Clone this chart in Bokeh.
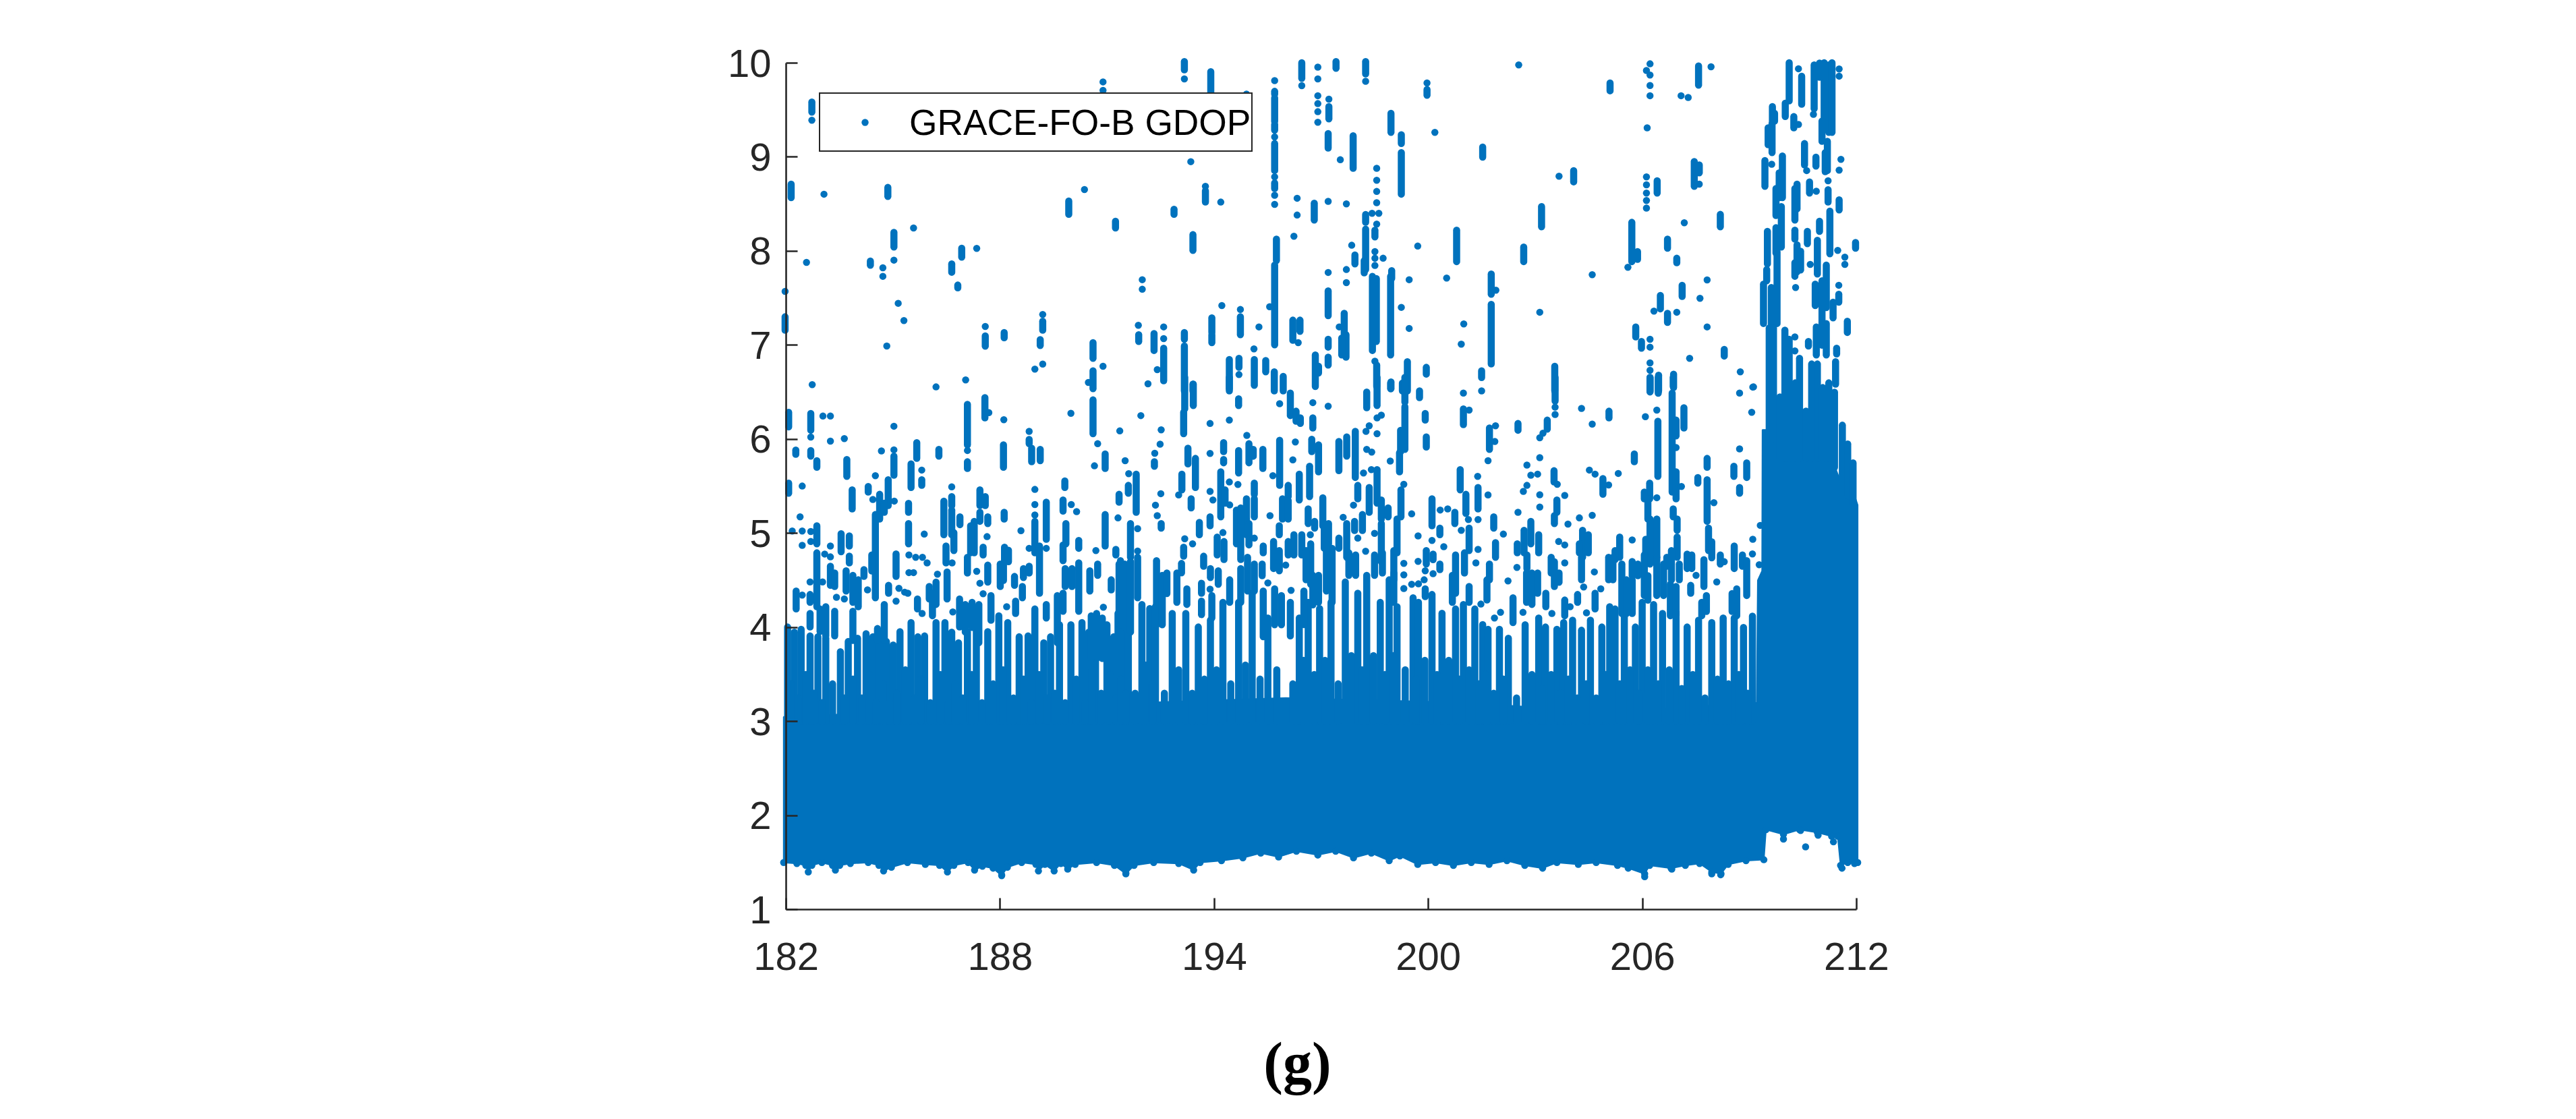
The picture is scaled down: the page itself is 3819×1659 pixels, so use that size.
from bokeh.embed import file_html
from bokeh.models import FixedTicker, Label, Legend, LegendItem
from bokeh.plotting import figure
from bokeh.resources import INLINE

# ---- values: (day, GDOP) -----------------------------------------------------
x_ticks = [182, 188, 194, 200, 206, 212]
y_ticks = [1, 2, 3, 4, 5, 6, 7, 8, 9, 10]
series_label = "GRACE-FO-B GDOP"
caption = "(g)"

# lower edge and upper edge of the solid body of the cloud
low_day = [181.93,182.3,182.55,182.62,182.72,183.0,183.3,183.38,183.5,183.8,184.3,184.6,184.73,184.95,185.4,185.9,186.3,186.52,186.7,187.1,187.28,187.5,187.8,188.04,188.2,188.6,189.0,189.07,189.25,189.51,189.7,189.89,190.1,190.7,191.2,191.52,191.75,192.3,193.0,193.42,193.6,194.2,194.8,195.3,195.8,196.3,196.9,197.4,197.9,198.4,198.9,199.2,199.7,200.2,200.7,201.2,201.7,202.2,202.7,203.2,203.6,204.2,204.7,205.3,205.6,206.06,206.2,206.8,207.2,207.6,207.94,208.2,208.4,208.9,209.4,209.46,209.95,210.4,210.9,211.3,211.47,211.55,211.75,211.95,212.03]
low_gdop = [1.50,1.49,1.47,1.40,1.47,1.50,1.47,1.42,1.47,1.49,1.50,1.47,1.41,1.45,1.50,1.48,1.47,1.40,1.47,1.50,1.42,1.46,1.44,1.36,1.45,1.50,1.48,1.41,1.48,1.41,1.49,1.43,1.48,1.50,1.47,1.38,1.47,1.50,1.49,1.42,1.50,1.52,1.55,1.60,1.56,1.62,1.58,1.62,1.55,1.60,1.52,1.57,1.48,1.50,1.47,1.50,1.48,1.52,1.47,1.44,1.50,1.48,1.50,1.47,1.44,1.38,1.47,1.44,1.47,1.49,1.40,1.38,1.48,1.52,1.53,1.85,1.80,1.85,1.82,1.78,1.78,1.47,1.50,1.50,1.50]
top_day = [181.93,185,190,192,196,201,205,209.2,209.23,209.35,209.36,209.75,209.85,211.0,211.3,211.5,211.7,211.9,212.03]
top_gdop = [3.05,3.1,3.1,3.2,3.25,3.2,3.1,3.2,4.5,4.6,6.1,6.1,5.9,5.9,5.8,5.6,5.5,5.45,5.3]

# tall columns that rise out of the body: (day, top GDOP)
columns_left = [(182.04,4.004),(182.23,3.95),(182.42,3.98),(182.67,3.909),(182.89,3.9),(183.11,3.885),(183.52,3.741),(183.74,3.85),(184.0,3.885),(184.24,3.933),(184.43,3.9),(184.62,3.837),(184.81,3.85),(185.0,3.813),(185.19,3.954),(185.5,4.052),(185.69,3.9),(185.88,3.909),(186.2,4.052),(186.45,4.052),(186.64,3.95),(186.83,3.837),(187.08,3.954),(187.33,4.028),(187.65,3.954),(187.96,4.124),(188.21,4.052),(188.53,3.9),(188.78,3.909),(188.97,4.196),(189.22,3.837),(189.41,3.9),(189.66,4.028),(189.98,4.028),(190.29,4.052),(190.48,3.95),(190.67,4.124),(190.99,4.028),(191.18,3.9),(191.3,4.148),(191.46,4.0),(191.59,4.148)]
columns_mid = [(191.97,4.243),(192.19,4.2),(192.35,4.22),(192.82,4.148),(193.2,4.148),(193.55,4.004),(193.89,4.076),(194.24,4.267),(194.68,4.267),(195.06,4.363),(195.5,4.1),(196.38,4.1),(196.63,4.267),(196.95,4.2),(197.27,4.267),(197.67,4.483),(198.02,4.363),(198.27,4.554),(198.65,4.267),(198.9,4.506),(199.12,4.22),(199.57,4.315),(199.72,4.267),(200.1,4.35),(200.38,4.15),(200.76,4.196),(200.98,4.244),(201.3,4.196),(201.52,4.03)]
columns_right = [(201.67,3.98),(201.99,3.98),(202.24,3.885),(202.71,4.028),(203.09,4.1),(203.28,4.004),(203.6,3.98),(203.79,4.052),(204.04,4.076),(204.29,3.97),(204.54,4.076),(204.86,4.004),(205.08,4.22),(205.23,4.196),(205.49,4.15),(205.8,4.004),(205.99,4.267),(206.31,4.244),(206.56,4.148),(206.94,4.17),(207.25,4.004),(207.57,4.076),(207.94,4.052),(208.26,4.1),(208.57,4.1),(208.83,4.0),(209.08,4.12)]
# shorter columns between them, where the white flecks stop
columns_between = [(182.13,3.4),(182.33,3.25),(182.55,3.5),(182.78,3.3),(183.0,3.2),(183.3,3.4),(183.63,3.25),(183.87,3.45),(184.12,3.25),(184.33,3.5),(184.52,3.2),(184.72,3.4),(184.9,3.2),(185.1,3.3),(185.34,3.55),(185.6,3.25),(185.78,3.45),(186.04,3.2),(186.32,3.5),(186.55,3.2),(186.73,3.4),(186.95,3.25),(187.2,3.5),(187.49,3.2),(187.8,3.4),(188.08,3.55),(188.37,3.25),(188.65,3.45),(188.87,3.2),(189.09,3.5),(189.31,3.25),(189.53,3.3),(189.82,3.2),(190.13,3.45),(190.38,3.2),(190.57,3.55),(190.83,3.3),(191.08,3.5),(191.24,3.25),(191.38,3.45),(191.52,3.3),(191.78,3.3),
(192.08,3.6),(192.27,3.4),(192.6,3.3),(193.0,3.55),(193.38,3.3),(193.72,3.45),(194.06,3.55),(194.46,3.4),(194.87,3.6),(195.28,3.45),(195.75,3.55),(196.2,3.4),(196.5,3.65),(196.8,3.5),(197.1,3.65),(197.47,3.4),(197.84,3.7),(198.14,3.55),(198.46,3.7),(198.78,3.5),(199.01,3.7),(199.35,3.55),(199.65,3.45),(199.9,3.65),(200.24,3.5),(200.57,3.65),(200.87,3.45),(201.14,3.55),(201.41,3.4),(201.6,3.5),
(201.83,3.3),(202.1,3.45),(202.47,3.25),(202.9,3.5),(203.19,3.35),(203.44,3.5),(203.7,3.3),(203.92,3.45),(204.17,3.25),(204.42,3.4),(204.7,3.25),(204.97,3.5),(205.36,3.4),(205.65,3.55),(205.9,3.3),(206.15,3.55),(206.44,3.4),(206.75,3.55),(207.1,3.35),(207.41,3.5),(207.75,3.25),(208.1,3.45),(208.41,3.4),(208.7,3.5),(208.95,3.3)]

# vertical chains of dots: (day, highest GDOP, lowest GDOP)
runs_upper_left = [(182.72,9.586,9.478),(182.14,8.713,8.57),(184.85,8.678,8.582),(185.02,8.2,8.044),(184.36,7.895,7.85),(186.92,8.032,7.937),(186.64,7.865,7.776),(186.81,7.64,7.61),(181.97,7.303,7.16),(187.58,7.1,6.99),(188.11,7.135,7.08),(189.19,7.255,7.16),(189.12,7.06,6.997),
(193.16,10.016,9.928),(193.9,9.909,9.694),(195.69,9.7,9.67),(195.69,9.63,9.38),(195.69,9.347,9.287),(195.69,9.144,8.857),(195.69,8.725,8.666),(196.45,10.004,9.837),(197.21,9.538,9.407),(197.19,9.251,9.096),(193.75,8.642,8.522),(189.92,8.534,8.391),(191.23,8.319,8.247),(192.87,8.446,8.391),(193.4,8.176,8.008),(196.8,8.51,8.331),(195.74,8.128,7.9),(195.69,7.853,7.004),(197.19,7.578,7.315),(194.73,7.303,7.112),(193.93,7.291,7.136),(193.93,7.11,7.028),(191.88,7.112,7.04),(192.31,7.124,6.944),(193.16,7.136,7.064),(196.2,7.267,7.052),(196.4,7.267,7.148),(197.19,7.064,6.98),(197.19,6.873,6.789),(190.6,7.028,6.861),(190.6,6.729,6.538),(192.58,6.968,6.622),(193.16,6.992,6.514),(193.4,6.586,6.514),(194.42,6.849,6.514),(194.69,6.861,6.765),(195.12,6.849,6.574),(195.44,6.837,6.717),(195.68,6.717,6.514),(195.93,6.669,6.514),(196.83,6.897,6.562),(196.92,6.777,6.705)]
runs_upper_mid = [(197.41,10.016,9.945),(198.24,10.016,9.885),(199.96,9.718,9.658),(198.95,9.466,9.263),(199.24,9.239,9.144),(199.24,9.048,8.606),(197.89,9.227,8.881),(201.52,9.108,9.0),(204.07,8.857,8.737),(203.17,8.474,8.259),(198.24,8.39,8.307),(198.24,8.235,7.805),(198.5,8.223,8.152),(200.79,8.223,7.889),(197.94,7.96,7.865),(202.67,8.044,7.889),(198.2,7.9,7.77),(198.97,7.793,7.71),(198.43,7.733,6.944),(198.54,7.709,7.04),(198.94,7.733,6.897),(201.76,7.757,7.542),(201.76,7.434,6.801),(197.64,7.339,7.112),(197.69,7.112,6.873),(197.57,7.076,6.897),(198.55,6.789,6.562),(199.41,6.825,6.514),(199.94,6.765,6.693),(201.49,6.729,6.657),(198.94,6.598,6.538),(199.27,6.598,6.514),(203.54,6.777,6.514)]
runs_upper_right = [(205.09,9.789,9.705),(207.57,9.969,9.765),(206.41,8.749,8.618),(207.45,8.953,8.69),(207.59,8.917,8.833),(208.18,8.391,8.259),(205.7,8.307,7.889),(205.86,7.996,7.913),(206.7,8.128,8.032),(206.96,7.925,7.877),(207.11,7.638,7.518),(206.5,7.53,7.387),(206.7,7.339,7.243),(205.81,7.195,7.088),(205.97,7.04,6.968),(208.29,6.956,6.885),(206.21,6.657,6.514),(206.45,6.681,6.514),(206.87,6.693,6.55)]
runs_spike = [(210.11,10.004,9.598),(210.0,9.574,9.431),(210.46,9.861,9.562),(210.81,9.98,9.514),(211.09,10.004,9.311),(211.22,9.98,9.263),(211.31,10.004,9.263),(210.96,10.0,9.85),(211.03,9.383,9.168),(209.64,9.538,9.383),(209.7,9.466,9.383),(209.52,9.311,9.132),(209.63,9.359,9.048),(210.24,9.431,9.311),(210.54,9.144,8.917),(210.86,9.0,8.905),(211.18,9.168,8.857),(211.12,9.048,8.845),(209.43,8.964,8.69),(209.92,9.012,8.57),(209.83,8.833,8.57),(209.74,8.666,8.379),(209.89,8.474,8.044),(209.74,8.25,7.98),(210.33,8.713,8.45),(210.27,8.666,8.331),(210.68,8.737,8.618),(211.2,8.654,8.522),(211.51,8.546,8.439),(211.25,8.426,7.972),(210.96,8.319,8.211),(210.9,8.116,7.757),(210.27,8.223,8.128),(210.62,8.211,8.08),(209.5,8.211,7.865),(209.77,7.996,7.231),(209.48,7.805,7.686),(209.39,7.65,7.231),(209.61,7.614,7.136),(211.97,8.092,8.032),(210.33,8.068,7.781),(210.43,8.0,7.8),(210.27,7.877,7.733),(211.15,7.853,7.4),(210.84,7.65,7.422),(211.03,7.686,7.0),(211.5,7.542,7.458),(211.34,7.458,7.291),(211.74,7.255,7.136),(210.87,7.195,6.897),(211.15,7.231,6.897),(210.65,7.04,6.992),(211.44,6.968,6.908),(209.99,7.16,5.8),(210.11,7.064,5.8),(209.55,7.184,6.0),(209.67,7.184,6.0),(210.4,6.861,5.8),(210.74,6.801,5.8),(210.9,6.801,5.8),(211.41,6.825,6.586),(209.85,6.45,5.8),(210.28,6.6,5.8),(210.58,6.3,5.8),(211.05,6.55,5.8),(211.22,6.6,5.8),(211.38,6.5,5.7),(211.6,6.15,5.5),(211.75,5.95,5.4),(211.9,5.75,5.3)]
runs_lower_left = [(187.57,6.443,6.228),(187.08,6.371,5.941),(187.08,5.761,5.69),(182.07,6.287,6.132),(182.69,6.275,6.096),(182.69,5.881,5.821),(182.27,5.885,5.84),(182.86,5.773,5.702),(183.7,5.785,5.606),(185.02,5.821,5.618),(185.66,5.965,5.797),(186.28,5.893,5.821),(185.5,5.738,5.487),(185.8,5.57,5.51),(182.07,5.534,5.427),(184.3,5.498,5.439),(183.85,5.463,5.26),(184.86,5.57,5.295),(184.62,5.415,5.152),(184.75,5.32,5.224),(185.43,5.319,5.224),(182.86,5.08,4.889),(183.54,4.997,4.805),(183.77,4.973,4.865),(184.5,5.2,4.315),(184.4,4.77,4.6),(185.43,5.104,4.889),(186.42,5.343,4.985),(186.64,5.391,5.295),(186.64,5.248,4.985),(186.87,5.176,5.092),(186.7,5.008,4.817),(186.48,4.865,4.686),(187.43,5.463,5.295),(187.58,5.391,5.295),(187.43,5.224,5.128),(187.65,5.176,5.104),(187.27,5.128,4.793),(187.17,5.08,4.793),(187.52,4.853,4.77),(188.11,5.224,5.152),(188.12,4.853,4.698),(188.23,4.82,4.698),(188.0,4.674,4.435),(188.09,4.674,4.5),(187.08,4.745,4.578),(187.65,4.662,4.482),(188.81,5.998,5.953),(188.88,5.905,5.761),(189.12,5.893,5.773),(188.09,5.941,5.702),(189.81,5.558,5.487),(190.6,6.419,6.06),(190.94,5.845,5.69),(191.59,5.51,5.427),(191.33,5.415,5.331),(189.29,5.331,4.937),(188.97,5.128,4.793),(189.1,4.865,4.363),(189.76,5.355,5.236),(189.84,5.104,4.889),(189.76,4.877,4.71),(190.2,4.925,4.841),(190.94,5.2,4.865),(191.24,4.829,4.77),(191.65,5.104,4.745),(190.2,4.686,4.172),(189.82,4.626,4.435),(190.01,4.626,4.435),
(182.86,4.793,4.22),(183.24,4.65,4.447),(183.36,4.578,4.435),(183.77,4.758,4.686),(183.68,4.602,4.387),(183.87,4.554,4.267),(184.02,4.506,4.22),(184.18,4.614,4.542),(182.28,4.387,4.196),(182.67,4.35,4.267),(184.87,4.447,4.363),(185.08,4.781,4.542),(186.51,4.59,4.303),(186.2,4.482,4.244),(186.01,4.435,4.303),(185.68,4.303,4.196),(186.1,4.363,4.124),(187.74,4.339,4.076),(186.86,4.303,4.005),(187.21,4.267,4.0),(187.4,4.244,3.837),(187.02,4.244,3.95),(188.4,4.542,4.447),(188.62,4.435,4.315),(188.65,4.626,4.53),(188.81,4.65,4.578),(188.43,4.279,4.148),(189.29,4.244,4.1),(189.6,4.339,3.837),(189.76,4.363,4.172),(190.7,4.148,3.67),(190.55,4.124,3.67),(190.86,4.1,3.67),(190.51,4.602,4.387),(190.73,4.674,4.554),(191.11,4.506,4.399),(191.33,4.674,4.028),(191.49,4.674,4.0),(191.65,4.7,3.95),(182.95,4.196,3.957),(183.11,4.22,3.909),(182.67,4.148,4.005),(183.36,4.172,3.909),(183.87,4.172,3.861),(184.75,4.244,3.861),(184.56,3.988,3.861)]
runs_lower_mid = [(193.17,6.658,6.323),(193.14,6.287,6.06),(193.41,6.586,6.359),(192.32,5.762,5.714),(191.81,5.63,5.224),(192.51,5.104,5.056),(193.09,5.63,5.463),(193.26,5.905,5.738),(193.47,5.797,5.487),(193.35,5.367,5.271),(194.42,6.658,6.538),(194.68,6.431,6.359),(194.26,5.965,5.869),(194.26,5.785,5.75),(194.18,5.654,5.176),(194.3,5.463,5.32),(193.88,5.176,5.08),(193.58,5.116,4.985),(194.68,5.881,5.642),(194.97,5.953,5.75),(195.09,5.893,5.82),(195.12,5.534,5.415),(195.12,5.367,5.176),(195.36,5.893,5.69),(194.9,5.367,4.985),(194.62,5.248,4.889),(194.74,5.271,4.722),(194.97,5.104,4.877),(193.14,4.853,4.757),(194.08,4.961,4.77),(194.27,4.913,4.722),(193.7,4.757,4.65),(195.83,5.989,5.51),(196.07,5.51,5.391),(195.91,5.367,5.152),(196.07,5.35,5.152),(195.82,5.08,4.985),(196.13,6.491,6.252),(196.29,6.299,6.192),(196.41,6.228,6.168),(196.76,6.228,6.12),(196.73,6.0,5.869),(196.92,5.941,5.654),(196.38,5.63,5.355),(196.67,5.714,5.391),(197.49,5.977,5.666),(197.71,6.025,5.821),(197.95,6.084,5.594),(198.27,6.503,6.335),(198.56,6.658,6.359),(198.56,5.678,5.32),(198.02,5.51,5.367),(198.34,5.487,5.224),(198.68,5.355,5.152),(198.87,5.271,5.176),(198.95,6.61,6.538),(199.34,6.658,6.395),(199.34,6.347,5.893),(199.22,6.096,5.869),(199.19,5.857,5.654),(199.75,6.515,6.443),(199.91,6.275,6.204),(199.94,6.025,5.917),(199.23,5.463,5.176),(200.89,5.678,5.463),(200.98,6.323,6.156),(201.39,5.487,5.26),(201.05,5.415,5.212),(200.1,5.367,5.08),(200.74,5.224,5.104),(200.32,5.056,4.985),(201.14,5.056,4.817),(201.01,4.793,4.578),(200.76,4.77,4.363),(200.67,4.554,4.267),(201.14,4.435,4.267),
(196.63,5.26,5.104),(196.81,5.128,5.056),(197.04,5.379,5.08),(197.2,5.104,4.889),(197.08,5.104,4.841),(196.45,4.985,4.77),(196.23,4.985,4.77),(196.07,4.913,4.77),(195.66,4.913,4.626),(195.82,4.817,4.602),(195.37,4.865,4.793),(196.7,4.889,4.458),(196.57,4.817,4.506),(197.3,4.841,4.267),(197.14,4.889,4.387),(197.49,4.949,4.841),(197.71,5.104,4.745),(197.93,5.128,5.03),(198.15,5.2,5.03),(198.68,5.104,4.698),(197.77,4.793,4.554),(197.96,4.77,4.554),(198.49,4.77,4.554),(198.71,4.793,4.578),(199.12,5.152,4.793),(199.03,4.817,4.506),(199.94,4.817,4.674),(200.13,4.78,4.72),(200.32,4.674,4.614),(199.91,4.41,4.327),(199.03,4.578,4.267),(191.85,4.745,4.315),(192.38,4.71,4.028),(192.54,4.554,4.028),(192.67,4.578,4.36),(192.95,4.578,4.267),(193.08,4.68,4.58),(193.23,4.41,4.244),(193.64,4.47,4.363),(193.89,4.626,4.53),(194.11,4.602,4.458),(194.43,4.506,4.267),(193.64,4.279,4.136),(193.93,4.339,4.1),(194.74,4.626,4.267),(194.93,4.745,4.387),(195.12,4.674,4.387),(195.34,4.674,4.55),(195.37,4.387,3.9),(195.69,4.41,4.028),(195.88,4.339,4.028),(196.13,4.267,3.909),(196.51,4.387,4.03),(196.76,4.554,4.24),(196.92,4.554,4.267)]
runs_lower_right = [(203.55,6.658,6.407),(205.06,6.299,6.228),(203.33,6.204,6.108),(202.51,6.168,6.096),(201.71,6.12,5.893),(203.52,5.666,5.546),(203.6,5.355,5.224),(203.53,5.188,5.104),(204.89,5.582,5.415),(205.77,5.845,5.762),(206.43,6.192,5.606),(206.21,6.658,6.503),(206.44,6.658,6.49),(206.86,6.658,6.562),(206.83,6.491,5.439),(206.94,6.204,6.036),(206.94,5.654,5.367),(207.16,6.335,6.12),(206.2,5.534,5.367),(206.05,5.439,5.367),(206.15,5.367,5.152),(206.86,5.26,5.176),(206.97,5.152,5.032),(207.55,5.594,5.534),(207.81,5.797,5.702),(207.81,5.57,5.128),(208.56,5.714,5.606),(208.92,5.75,5.594),(208.72,5.487,5.427),(207.85,5.056,4.817),(207.94,4.91,4.74),(207.72,4.72,4.435),(208.57,4.865,4.626),(208.8,4.77,4.65),(208.92,4.71,4.339),(208.64,4.41,4.124),(208.51,4.36,4.17),(208.18,4.77,4.674),(207.38,4.77,4.626),(207.25,4.78,4.626),(207.35,4.447,4.363),(207.66,4.267,4.124),(207.79,4.339,4.17),(206.4,5.152,4.745),(206.4,4.745,4.339),(206.21,5.152,4.674),(206.09,4.937,4.793),(206.05,4.77,4.339),(206.15,4.55,4.29),(206.97,4.96,4.745),(206.81,4.817,4.506),(206.68,4.745,4.65),(207.03,4.674,4.506),(206.59,4.674,4.339),(206.78,4.458,4.124),(206.94,4.435,4.124),(205.36,4.96,4.745),(205.23,4.817,4.722),(205.05,4.745,4.506),(205.17,4.745,4.506),(205.42,4.674,4.148),(205.55,4.506,4.148),(205.71,4.7,4.55),(205.71,4.506,4.148),(205.87,4.674,4.55),(204.32,5.032,4.745),(204.48,4.985,4.793),(204.23,4.889,4.793),(204.29,4.745,4.506),(202.87,5.128,4.889),(202.68,5.032,4.793),(203.09,4.985,4.793),(202.49,4.889,4.793),(201.83,5.176,5.056),(201.88,4.901,4.745),(202.76,4.77,4.626),(203.44,4.745,4.578),(203.53,4.698,4.435),(203.66,4.578,4.48),(201.71,4.674,4.506),(202.75,4.578,4.267),(202.9,4.578,4.244),(203.06,4.578,4.363),(201.64,4.506,4.291),(203.29,4.363,4.22),(203.82,4.291,4.124),(204.18,4.35,4.267),(204.67,4.363,4.196),(202.37,4.315,4.052)]

# isolated dots: (day, GDOP)
dots_upper_left = [(182.72,9.392),(183.06,8.606),(185.57,8.247),(182.57,7.881),(184.71,7.824),(184.71,7.733),(185.02,7.905),(187.34,8.03),(181.97,7.573),(185.14,7.446),(185.3,7.263),(184.82,6.992),(187.58,7.2),(189.19,7.327),(189.19,6.8),(188.97,6.746),(182.73,6.581),(186.2,6.557),(187.03,6.631),
(190.88,9.8),(190.88,9.71),(193.16,9.832),(194.9,9.67),(195.69,9.813),(195.69,9.215),(195.69,8.79),(195.69,8.594),(195.69,8.498),(196.45,9.76),(196.9,9.957),(196.9,9.832),(196.9,9.653),(196.9,9.569),(196.9,9.483),(196.9,9.371),(197.21,9.617),(193.34,8.952),(193.75,8.69),(194.18,8.522),(190.36,8.656),(196.32,8.563),(196.32,8.384),(197.19,8.53),(196.23,8.159),(195.55,7.41),(197.19,7.774),(191.98,7.697),(191.98,7.595),(194.21,7.422),(194.73,7.38),(195.25,7.195),(191.87,7.212),(192.58,7.195),(192.58,7.071),(196.35,7.028),(195.11,6.961),(190.88,6.777),(190.47,6.605),(192.4,6.741),(192.14,6.59),(194.69,6.688)]
dots_upper_mid = [(198.24,9.806),(199.96,9.789),(200.18,9.263),(197.53,8.972),(203.66,8.797),(202.53,9.98),(198.55,8.881),(198.55,8.754),(198.55,8.635),(198.55,8.515),(197.7,8.503),(198.42,8.403),(198.61,8.403),(198.55,8.288),(197.85,8.063),(198.5,7.996),(198.5,7.925),(198.5,7.848),(198.73,7.925),(199.7,8.054),(197.7,7.805),(197.7,7.666),(199.46,7.697),(200.51,7.714),(201.89,7.585),(204.59,7.75),(199.24,7.403),(203.12,7.351),(200.99,7.226),(199.46,7.179),(200.92,7.011),(197.5,7.195),(198.5,6.83)]
dots_upper_right = [(206.21,9.992),(206.11,9.921),(206.21,9.873),(206.21,9.761),(206.21,9.653),(206.13,9.311),(207.08,9.653),(207.28,9.634),(207.92,9.961),(206.11,8.79),(206.11,8.706),(206.11,8.618),(206.11,8.539),(206.11,8.458),(207.59,8.713),(207.17,8.302),(205.59,7.829),(207.81,7.695),(207.61,7.499),(206.32,7.363),(206.96,7.351),(207.81,7.195),(206.21,7.064),(206.21,6.98),(207.32,6.861),(206.21,6.813),(206.21,6.734),(208.74,6.717),(209.11,6.557),
(210.37,9.94),(210.79,9.455),(211.51,9.937),(211.51,9.861),(210.37,9.347),(210.6,8.857),(211.56,8.976),(211.51,8.862),(209.62,8.924),(210.87,8.637),(211.2,8.749),(211.47,8.008),(211.67,7.936),(211.67,7.86),(210.29,7.614),(210.7,7.86),(211.5,7.638),(210.27,7.088),(210.27,6.94)]
dots_lower_left = [(187.68,6.283),(187.08,5.881),(188.1,6.208),(182.69,6.024),(183.03,6.247),(183.24,6.247),(183.24,5.981),(183.63,6.008),(185.02,6.139),(184.67,5.876),(185.02,5.888),(185.8,5.673),(184.5,5.613),(182.45,5.503),(184.43,5.36),(185.03,5.343),(182.39,5.176),(182.17,5.025),(182.45,5.025),(182.69,5.02),(182.69,4.913),(182.45,4.872),(183.24,4.865),(185.87,4.992),(186.64,5.494),(186.65,4.686),(187.63,4.965),(187.34,4.597),(187.43,4.47),(188.97,5.467),(188.58,5.028),(188.81,6.084),(189.98,6.276),(190.73,5.953),(190.64,5.718),(191.35,6.089),(191.5,5.773),(191.6,5.635),(188.97,5.307),(188.97,5.195),(189.29,4.841),(188.81,4.841),(189.99,5.307),(190.14,5.231),(191.3,5.164),(190.68,4.817),(191.37,4.71),
(183.08,4.78),(183.24,4.75),(182.67,4.483),(183.02,4.483),(182.45,4.344),(183.41,4.32),(183.63,4.303),(184.28,4.399),(185.16,4.416),(185.32,4.375),(185.41,4.363),(185.08,4.279),(185.44,4.77),(185.63,4.745),(185.82,4.745),(185.95,4.686),(185.44,4.583),(185.57,4.583),(186.24,4.566),(185.81,4.148),(186.67,4.165),(187.52,4.358),(188.18,4.22),(190.89,4.215)]
dots_lower_mid = [(192.51,6.101),(192.48,5.948),(192.33,5.852),(191.94,6.252),(191.85,5.05),(192.5,5.422),(192.35,5.3),(192.4,5.188),(193.0,5.408),(193.88,6.168),(193.88,5.85),(194.42,6.204),(194.42,5.546),(194.66,5.52),(193.88,5.446),(193.96,5.355),(194.91,6.041),(194.43,5.302),(195.12,4.949),(193.17,4.942),(193.39,4.889),(191.85,4.812),(194.24,5.008),(195.64,5.613),(195.56,5.188),(196.27,5.972),(196.2,5.781),(195.83,6.378),(196.76,6.39),(197.19,6.352),(197.61,5.171),(198.34,6.144),(198.25,6.084),(198.56,6.06),(198.56,6.228),(198.68,6.256),(198.27,5.893),(198.41,5.864),(198.18,5.642),(198.4,5.678),(197.9,5.3),(198.93,5.769),(199.31,5.522),(199.53,5.207),(200.98,6.491),(201.14,6.311),(201.49,6.515),(201.38,5.606),(201.39,5.147),(201.12,5.147),(200.33,5.248),(200.54,5.26),(199.71,4.973),(200.1,4.925),(200.43,4.858),(200.92,5.032),(201.39,4.829),(201.33,4.686),(201.47,4.248),
(196.69,4.985),(198.02,4.949),(198.49,5.0),(198.24,4.81),(196.0,4.662),(199.31,4.681),(199.31,4.559),(199.71,4.702),(199.91,4.602),(200.13,4.571),(199.31,4.413),(199.53,4.459),(199.72,4.463),(199.88,4.506),(193.88,4.406),(195.5,4.473),(196.15,4.394)]
dots_lower_right = [(203.55,6.342),(203.55,6.264),(204.29,6.328),(204.59,6.161),(203.21,6.065),(203.12,6.017),(201.88,6.144),(201.86,5.977),(201.67,5.773),(203.12,5.805),(202.76,5.726),(202.87,5.618),(203.06,5.63),(203.61,5.522),(202.76,5.51),(202.66,5.446),(201.67,5.408),(203.12,5.41),(203.12,5.279),(203.82,5.403),(202.51,5.224),(204.23,5.164),(204.59,5.192),(203.91,5.099),(204.51,5.673),(204.67,5.63),(205.05,5.515),(205.32,5.637),(206.08,6.24),(206.4,6.311),(206.94,5.912),(207.09,5.498),(206.4,5.379),(208.0,5.326),(208.72,5.898),(208.72,6.491),(209.09,6.555),(209.06,6.287),(209.3,5.085),(209.09,4.937),(209.08,4.781),(209.27,4.667),(205.71,4.93),(207.5,4.554),(204.65,4.59),(204.35,4.43),(208.29,4.698),(208.08,4.483),(202.1,4.992),(203.65,4.913),(203.82,4.877),(202.48,4.638),(203.82,4.686),(202.23,4.494),(203.97,4.22),(203.46,4.148),(204.43,4.155),(204.83,4.41),(202.65,4.16),(202.02,4.16),(201.85,4.1)]
dots_bottom = [(206.06,1.35),(206.82,1.43),(207.94,1.38),(208.19,1.37),(209.95,1.75),(210.43,1.84),(210.92,1.79),(210.57,1.667),(211.35,1.72),(211.59,1.44),(211.94,1.49),(188.04,1.37),(191.52,1.39)]

columns = columns_left + columns_mid + columns_right + columns_between
runs = (runs_upper_left + runs_upper_mid + runs_upper_right + runs_spike
        + runs_lower_left + runs_lower_mid + runs_lower_right)
dots = (dots_upper_left + dots_upper_mid + dots_upper_right + dots_lower_left
        + dots_lower_mid + dots_lower_right + dots_bottom)

# ---- style -------------------------------------------------------------------
BLUE = "#0072BD"
INK = "#262626"
DOT = 10.5

# The plot frame covers the whole canvas, so tick labels of the fixed axes and the caption are not clipped.
p = figure(
    width=3800, height=1640, output_backend="svg", toolbar_location=None,
    x_range=(159.977, 231.811), y_range=(-1.094, 10.667),
    frame_width=3800, frame_height=1640,
    min_border=0, min_border_left=0, min_border_right=0, min_border_top=0, min_border_bottom=0,
)
p.background_fill_color = "white"
p.border_fill_color = "white"
p.outline_line_color = None
p.grid.visible = False

# body of the cloud
p.patch(low_day + top_day[::-1], low_gdop + top_gdop[::-1], fill_color=BLUE, line_color=BLUE, line_width=2)
p.scatter(low_day, low_gdop, marker="circle", size=DOT, fill_color=BLUE, line_color=None)

# columns rising from the body
p.segment([c[0] for c in columns], [3.0] * len(columns), [c[0] for c in columns], [c[1] for c in columns],
          line_color=BLUE, line_width=DOT, line_cap="round")

# chains of dots
p.segment([r[0] for r in runs], [r[2] for r in runs], [r[0] for r in runs], [r[1] for r in runs],
          line_color=BLUE, line_width=DOT, line_cap="round")

# isolated dots
pts = p.scatter([d[0] for d in dots], [d[1] for d in dots], marker="circle", size=DOT,
                fill_color=BLUE, line_color=None)

for ax, ticks, loc in ((p.xaxis[0], x_ticks, 1), (p.yaxis[0], y_ticks, 182)):
    ax.ticker = FixedTicker(ticks=ticks)
    ax.fixed_location = loc
    ax.bounds = (ticks[0], ticks[-1])
    ax.axis_line_color = INK
    ax.axis_line_width = 2.6
    ax.major_tick_line_color = INK
    ax.major_tick_line_width = 2.6
    ax.major_tick_in = 17
    ax.major_tick_out = 0
    ax.minor_tick_line_color = None
    ax.major_label_text_font = "Liberation Sans"
    ax.major_label_text_font_size = "58px"
    ax.major_label_text_color = INK
p.xaxis[0].major_label_standoff = 49
p.yaxis[0].major_label_standoff = 22

legend = Legend(
    items=[LegendItem(label=series_label, renderers=[pts])],
    location=(1214, 1415), margin=0, padding=1, spacing=0,
    glyph_width=130, glyph_height=26, label_standoff=1, label_height=82,
    label_text_font="Liberation Sans", label_text_font_size="53.3px", label_text_color="black",
    background_fill_color="white", background_fill_alpha=1,
    border_line_color=INK, border_line_width=2.6, border_line_alpha=1,
)
p.add_layout(legend, "center")

p.add_layout(Label(x=1923, y=64.5, x_units="screen", y_units="screen", text=caption,
                   text_font="Liberation Serif", text_font_style="bold", text_font_size="86px",
                   text_color="black", text_align="center", text_baseline="middle"))

open("out.html", "w").write(file_html(p, INLINE))
